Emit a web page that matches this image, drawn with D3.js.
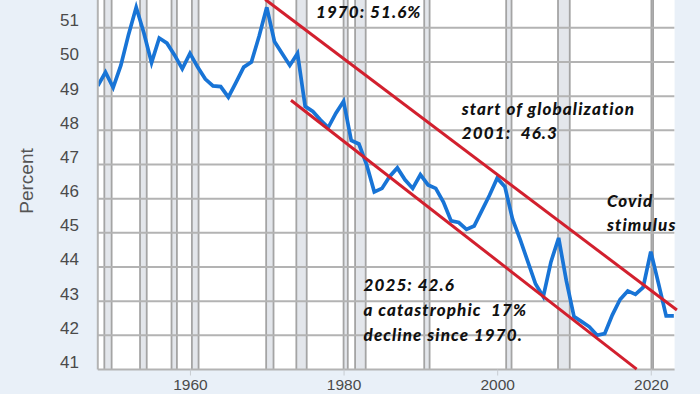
<!DOCTYPE html>
<html>
<head>
<meta charset="utf-8">
<script src="https://cdn.jsdelivr.net/npm/d3@7"></script>
<style>
  html, body { margin: 0; padding: 0; background: #e9f0f8; }
  svg { display: block; }
</style>
</head>
<body>
<svg id="chart" width="700" height="394"></svg>
<script>
// ---- data ----
const years = d3.range(1948, 2024);
const laborShare = [
  49.3, 49.7, 49.25, 49.9, 50.8, 51.6, 50.85, 49.98, 50.7, 50.55,
  50.2, 49.8, 50.25, 49.85, 49.5, 49.3, 49.28, 48.97, 49.4, 49.85,
  50.0, 50.75, 51.6, 50.6, 50.25, 49.9, 50.25, 48.7, 48.55, 48.3,
  48.08, 48.5, 48.85, 47.7, 47.6, 47.0, 46.2, 46.3, 46.65, 46.9,
  46.55, 46.3, 46.7, 46.4, 46.3, 45.9, 45.35, 45.3, 45.1, 45.2,
  45.65, 46.1, 46.6, 46.35, 45.4, 44.8, 44.15, 43.5, 43.13, 44.15,
  44.85, 43.6, 42.55, 42.4, 42.25, 42.0, 42.05, 42.6, 43.05, 43.3,
  43.2, 43.4, 44.45, 43.52, 42.57, 42.57
];
const recessionStart = [1948.85, 1953.5, 1957.6, 1960.25, 1969.92, 1973.85, 1980.0, 1981.5, 1990.5, 2001.17, 2007.92, 2020.08];
const recessionEnd   = [1949.8, 1954.37, 1958.3, 1961.12, 1970.88, 1975.2, 1980.55, 1982.88, 1991.2, 2001.87, 2009.45, 2020.3];
const xTicks = [1960, 1980, 2000, 2020];
const yTicks = [41, 42, 43, 44, 45, 46, 47, 48, 49, 50, 51];
const yLabel = "Percent";
// trend lines (data units: [year, percent])
const upperTrend = [[1969.8, 51.83], [2023.4, 42.74]];
const lowerTrend = [[1973.15, 48.88], [2018.16, 41.01]];
// annotations: [year, percent, text]
const notes = [
  [1976.4, 51.3, "1970: 51.6%"],
  [1995.4, 48.45, "start of globalization"],
  [1995.4, 47.74, "2001:  46.3"],
  [2014.3, 45.76, "Covid"],
  [2014.3, 45.06, "stimulus"],
  [1982.6, 43.31, "2025: 42.6"],
  [1982.6, 42.57, "a catastrophic  17%"],
  [1982.6, 41.84, "decline since 1970."]
];

// ---- layout ----
const svg = d3.select("#chart");
const W = 700, H = 394;
const left = 97.8, right = 674.6, bottom = 369.5;
const x = d3.scaleLinear().domain([1948, 2023.1]).range([left, right]);
const y = d3.scaleLinear().domain([41, 52]).range([bottom, bottom - 11 * 34.17]);

svg.append("rect").attr("width", W).attr("height", H).attr("fill", "#e9f0f8");

svg.append("defs").append("clipPath").attr("id", "plotclip")
  .append("rect").attr("x", left).attr("y", -20).attr("width", right - left).attr("height", bottom + 20);

// plot background
svg.append("rect").attr("x", left).attr("y", -20).attr("width", right - left).attr("height", bottom + 20)
  .attr("fill", "#ffffff");

const plot = svg.append("g").attr("clip-path", "url(#plotclip)");

// recession bars
const rec = recessionStart.map((s, i) => [s, recessionEnd[i]]);
plot.selectAll("rect.rec").data(rec).join("rect")
  .attr("class", "rec")
  .attr("x", d => x(d[0])).attr("y", -20)
  .attr("width", d => Math.max(1, x(d[1]) - x(d[0])))
  .attr("height", bottom + 20)
  .attr("fill", "#e3e6eb");
plot.selectAll("line.recedge").data(rec.flat()).join("line")
  .attr("class", "recedge")
  .attr("x1", d => x(d)).attr("x2", d => x(d))
  .attr("y1", -20).attr("y2", bottom)
  .attr("stroke", "#a4a4a4").attr("stroke-width", 1.8);

// horizontal grid
plot.selectAll("line.grid").data(yTicks.slice(1)).join("line")
  .attr("class", "grid")
  .attr("x1", left).attr("x2", right)
  .attr("y1", d => y(d)).attr("y2", d => y(d))
  .attr("stroke", "#b3b3b3").attr("stroke-width", 2);

// axes lines
svg.append("line").attr("x1", left).attr("x2", right).attr("y1", bottom).attr("y2", bottom)
  .attr("stroke", "#b3b3b3").attr("stroke-width", 2);
svg.append("line").attr("x1", left).attr("x2", left).attr("y1", 0).attr("y2", bottom)
  .attr("stroke", "#b3b3b3").attr("stroke-width", 2);

// y axis labels (via d3 axis)
const yAxis = d3.axisLeft(y).tickValues(yTicks).tickSize(0).tickPadding(0).tickFormat(d3.format("d"));
const gy = svg.append("g").attr("transform", `translate(${79},0)`).call(yAxis);
gy.select(".domain").remove();
gy.selectAll("text")
  .attr("font-family", "Liberation Sans, Arial, sans-serif")
  .attr("font-size", 17).attr("fill", "#4a4a4a")
  .attr("dy", "-0.12em");

// x axis
const xAxis = d3.axisBottom(x).tickValues(xTicks).tickSize(6).tickPadding(5).tickFormat(d3.format("d"));
const gx = svg.append("g").attr("transform", `translate(0,${bottom})`).call(xAxis);
gx.select(".domain").remove();
gx.selectAll("line").attr("stroke", "#c8ccd2").attr("stroke-width", 1);
gx.selectAll("text")
  .attr("font-family", "Liberation Sans, Arial, sans-serif")
  .attr("font-size", 15.5).attr("fill", "#4a4a4a")
  .attr("dy", "0.62em");

// y label
svg.append("text")
  .attr("transform", `translate(33,181) rotate(-90)`)
  .attr("text-anchor", "middle")
  .attr("font-family", "Liberation Sans, Arial, sans-serif")
  .attr("font-size", 19).attr("fill", "#555")
  .text(yLabel);

// data line
const line = d3.line().x((d, i) => x(years[i])).y(d => y(d));
plot.append("path").datum(laborShare)
  .attr("d", line)
  .attr("fill", "none").attr("stroke", "#1874d6").attr("stroke-width", 3.7)
  .attr("stroke-linejoin", "miter");

// trend lines
const tline = d3.line().x(d => x(d[0])).y(d => y(d[1]));
[upperTrend, lowerTrend].forEach(t => {
  svg.append("path").datum(t).attr("d", tline)
    .attr("fill", "none").attr("stroke", "#d2202e").attr("stroke-width", 3);
});

// annotations
svg.selectAll("text.note").data(notes).join("text")
  .attr("class", "note")
  .attr("x", d => x(d[0])).attr("y", d => y(d[1]))
  .attr("font-family", "Lato, sans-serif")
  .attr("font-style", "italic").attr("font-weight", 900)
  .attr("font-size", 17).attr("fill", "#111")
  .attr("letter-spacing", "1.1px")
  .attr("xml:space", "preserve")
  .style("white-space", "pre")
  .text(d => d[2]);
</script>
</body>
</html>
